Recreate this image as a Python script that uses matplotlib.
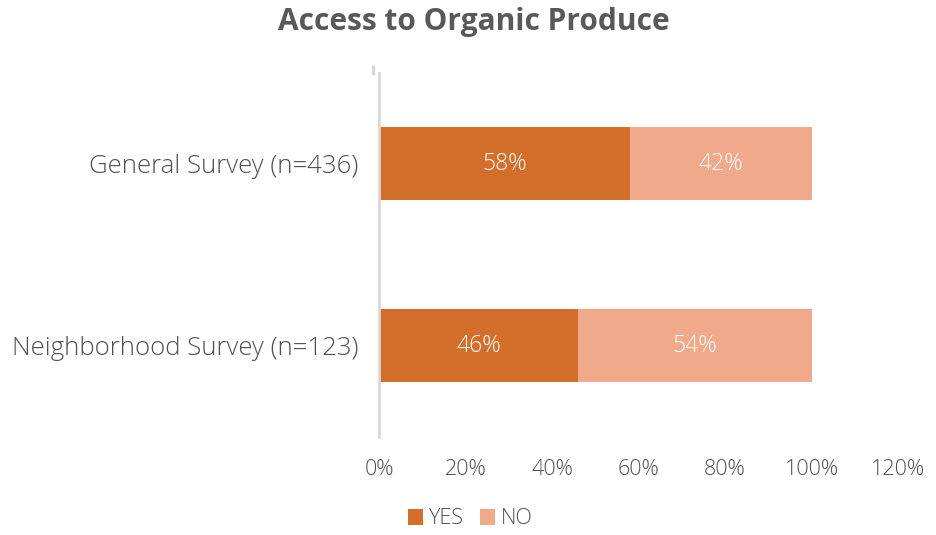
import matplotlib
matplotlib.use("Agg")
import matplotlib.pyplot as plt
import numpy as np

categories = ["General Survey (n=436)", "Neighborhood Survey (n=123)"]
yes_vals = [0.58, 0.46]
no_vals = [0.42, 0.54]
series_names = ["YES", "NO"]
x_ticks = [0, 0.2, 0.4, 0.6, 0.8, 1.0, 1.2]
x_tick_labels = ["0%", "20%", "40%", "60%", "80%", "100%", "120%"]

YES_C = "#D36F2B"
NO_C = "#F0A98A"
TXT = "#505050"

plt.rcParams['font.family'] = ['Open Sans', 'DejaVu Sans']
plt.rcParams['font.weight'] = 'light'

fig = plt.figure(figsize=(9.36, 5.35), dpi=100)
ax = fig.add_axes([379/936, 1-436.5/535, (898-379)/936, (436.5-72.5)/535])

y = np.arange(len(categories))
h = 0.4
b1 = ax.barh(y, yes_vals, height=h, color=YES_C, label=series_names[0])
b2 = ax.barh(y, no_vals, left=yes_vals, height=h, color=NO_C, label=series_names[1])

for bars, vals in ((b1, yes_vals), (b2, no_vals)):
    for bar, v in zip(bars, vals):
        ax.text(bar.get_x() + bar.get_width()/2, bar.get_y() + bar.get_height()/2,
                f"{round(v*100)}%", ha="center", va="center", color="white", fontsize=16.5)

ax.set_xlim(0, 1.2)
ax.set_ylim(1.5, -0.5)
ax.set_xticks(x_ticks)
ax.set_xticklabels(x_tick_labels)
ax.set_yticks(y)
ax.set_yticklabels(categories)
ax.tick_params(axis="x", length=0, pad=16, labelsize=15.5, labelcolor=TXT)
ax.tick_params(axis="y", length=0, pad=15, labelsize=18.5, labelcolor=TXT)
for s in ("top", "right", "bottom"):
    ax.spines[s].set_visible(False)
ax.spines["left"].set_color("#D9D9D9")
ax.spines["left"].set_linewidth(2)

# small tick mark at top of category axis
ax.plot([-0.015, -0.015], [-0.5, -0.53], color="#D9D9D9", lw=2.5, clip_on=False,
        transform=ax.transData)

fig.suptitle("Access to Organic Produce", x=474/936, y=1-22/535, va="center",
             fontsize=21.5, fontweight="bold", color="#595959")

fig.legend(handles=[b1, b2], labels=series_names, loc="center", bbox_to_anchor=(470/936, 1-519/535),
           ncol=2, frameon=False, fontsize=15.5, labelcolor=TXT, handlelength=0.7, handleheight=0.7,
           handletextpad=0.25, columnspacing=0.8)

fig.savefig("out.png", dpi=100)
